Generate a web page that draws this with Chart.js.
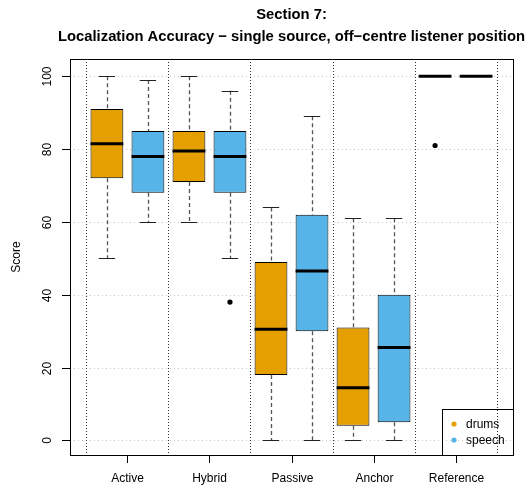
<!DOCTYPE html>
<html>
<head>
<meta charset="utf-8">
<script src="https://cdn.jsdelivr.net/npm/chart.js@4"></script>
<style>
  html, body { margin: 0; padding: 0; background: #ffffff; }
  #wrap { width: 529px; height: 488px; }
</style>
</head>
<body>
<div id="wrap"><canvas id="chart" width="529" height="488"></canvas></div>
<script>
// Listening-test scores, section 7: five-number summaries per condition and stimulus
const groups = ['Active', 'Hybrid', 'Passive', 'Anchor', 'Reference'];
const seriesNames = ['drums', 'speech'];
const seriesColors = ['#E69F00', '#56B4E9'];

const drumsLow  = [50, 60, 0, 0, 100];
const drumsQ1   = [72, 71, 18, 4, 100];
const drumsMed  = [81.5, 79.5, 30.5, 14.5, 100];
const drumsQ3   = [91, 85, 49, 31, 100];
const drumsHigh = [100, 100, 64, 61, 100];
const drumsOut  = [[], [], [], [], [81]];

const speechLow  = [60, 50, 0, 0, 100];
const speechQ1   = [68, 68, 30, 5, 100];
const speechMed  = [78, 78, 46.5, 25.5, 100];
const speechQ3   = [85, 85, 62, 40, 100];
const speechHigh = [99, 96, 89, 61, 100];
const speechOut  = [[], [38], [], [], []];

const yTicks = [0, 20, 40, 60, 80, 100];
const titleLines = ['Section 7:', 'Localization Accuracy \u2212 single source, off\u2212centre listener position'];
const yTitle = 'Score';

const FONT = '"Liberation Sans", Arial, Helvetica, sans-serif';

// box k of group i sits at x = 2*i + 1 + k
const series = [
  { low: drumsLow, q1: drumsQ1, med: drumsMed, q3: drumsQ3, high: drumsHigh, out: drumsOut },
  { low: speechLow, q1: speechQ1, med: speechMed, q3: speechQ3, high: speechHigh, out: speechOut }
];
const posOf = (i, k) => 2 * i + 1 + k;
const HALF_BOX = 0.4;
const HALF_CAP = 0.2;

const boxDatasets = series.map((s, k) => ({
  type: 'bar',
  label: seriesNames[k],
  data: groups.map((g, i) => ({ x: posOf(i, k), y: [s.q1[i], s.q3[i]] })),
  backgroundColor: seriesColors[k],
  borderColor: '#000000',
  borderWidth: 1,
  borderSkipped: false,
  grouped: false,
  barPercentage: 2 * HALF_BOX,
  categoryPercentage: 1,
  order: 2
}));

const outlierData = [];
series.forEach((s, k) => s.out.forEach((vals, i) => vals.forEach(v => outlierData.push({ x: posOf(i, k), y: v }))));

const boxplotDecor = {
  id: 'boxplotDecor',
  beforeDatasetsDraw(chart) {
    const { ctx, chartArea: a, scales: { x, y } } = chart;
    ctx.save();
    // horizontal reference lines
    ctx.strokeStyle = '#c8c8c8';
    ctx.lineWidth = 1;
    ctx.setLineDash([1, 3]);
    yTicks.forEach(t => {
      const py = Math.round(y.getPixelForValue(t)) + 0.5;
      ctx.beginPath(); ctx.moveTo(a.left, py); ctx.lineTo(a.right, py); ctx.stroke();
    });
    // group separators
    ctx.strokeStyle = '#333333';
    ctx.setLineDash([1, 2]);
    for (let i = 0; i <= groups.length; i++) {
      const px = Math.round(x.getPixelForValue(2 * i + 0.5)) + 0.5;
      ctx.beginPath(); ctx.moveTo(px, a.top); ctx.lineTo(px, a.bottom); ctx.stroke();
    }
    // whiskers and caps
    series.forEach((s, k) => groups.forEach((g, i) => {
      const p = posOf(i, k);
      const cx = Math.round(x.getPixelForValue(p)) + 0.5;
      ctx.strokeStyle = '#555555';
      ctx.lineWidth = 1.3;
      ctx.setLineDash([4, 3]);
      ctx.beginPath();
      ctx.moveTo(cx, y.getPixelForValue(s.high[i])); ctx.lineTo(cx, y.getPixelForValue(s.q3[i]));
      ctx.moveTo(cx, y.getPixelForValue(s.q1[i])); ctx.lineTo(cx, y.getPixelForValue(s.low[i]));
      ctx.stroke();
      ctx.setLineDash([]);
      ctx.strokeStyle = '#222222';
      ctx.lineWidth = 1;
      const cl = x.getPixelForValue(p - HALF_CAP), cr = x.getPixelForValue(p + HALF_CAP);
      [s.high[i], s.low[i]].forEach(v => {
        const py = Math.round(y.getPixelForValue(v)) + 0.5;
        ctx.beginPath(); ctx.moveTo(cl, py); ctx.lineTo(cr, py); ctx.stroke();
      });
    }));
    ctx.restore();
  },
  afterDatasetsDraw(chart) {
    const { ctx, chartArea: a, scales: { x, y } } = chart;
    ctx.save();
    // medians
    ctx.strokeStyle = '#000000';
    ctx.lineWidth = 3;
    ctx.setLineDash([]);
    series.forEach((s, k) => groups.forEach((g, i) => {
      const p = posOf(i, k);
      const py = y.getPixelForValue(s.med[i]);
      ctx.beginPath();
      ctx.moveTo(x.getPixelForValue(p - HALF_BOX), py);
      ctx.lineTo(x.getPixelForValue(p + HALF_BOX), py);
      ctx.stroke();
    }));
    // frame
    ctx.lineWidth = 1;
    ctx.strokeStyle = '#000000';
    ctx.strokeRect(Math.round(a.left) + 0.5, Math.round(a.top) + 0.5,
                   Math.round(a.right - a.left), Math.round(a.bottom - a.top));
    // y axis ticks and labels
    ctx.fillStyle = '#000000';
    ctx.font = '12px ' + FONT;
    yTicks.forEach(t => {
      const py = Math.round(y.getPixelForValue(t)) + 0.5;
      ctx.beginPath(); ctx.moveTo(a.left - 8, py); ctx.lineTo(a.left, py); ctx.stroke();
      ctx.save();
      ctx.translate(a.left - 22, py);
      ctx.rotate(-Math.PI / 2);
      ctx.textAlign = 'center';
      ctx.textBaseline = 'middle';
      ctx.fillText(String(t), 0, 0);
      ctx.restore();
    });
    // x axis ticks and labels
    groups.forEach((g, i) => {
      const px = Math.round(x.getPixelForValue(2 * i + 1.5)) + 0.5;
      ctx.beginPath(); ctx.moveTo(px, a.bottom); ctx.lineTo(px, a.bottom + 8); ctx.stroke();
      ctx.textAlign = 'center';
      ctx.textBaseline = 'middle';
      ctx.fillText(g, px, a.bottom + 24);
    });
    // axis title
    ctx.save();
    ctx.translate(17, (a.top + a.bottom) / 2);
    ctx.rotate(-Math.PI / 2);
    ctx.textAlign = 'center';
    ctx.textBaseline = 'middle';
    ctx.fillText(yTitle, 0, 0);
    ctx.restore();
    // title
    ctx.font = 'bold 14.8px ' + FONT;
    ctx.textAlign = 'center';
    ctx.textBaseline = 'middle';
    const cx = (a.left + a.right) / 2;
    ctx.fillText(titleLines[0], cx, 15);
    ctx.fillText(titleLines[1], cx, 37);
    // legend
    const lw = 71, lh = 46;
    const lx = Math.round(a.right) - lw, ly = Math.round(a.bottom) - lh;
    ctx.lineWidth = 1;
    ctx.strokeRect(lx + 0.5, ly + 0.5, lw, lh);
    ctx.font = '12px ' + FONT;
    ctx.textAlign = 'left';
    seriesNames.forEach((n, k) => {
      const ry = ly + 15 + k * 16;
      ctx.fillStyle = seriesColors[k];
      ctx.beginPath(); ctx.arc(lx + 12, ry, 2.6, 0, Math.PI * 2); ctx.fill();
      ctx.fillStyle = '#000000';
      ctx.fillText(n, lx + 24, ry + 1);
    });
    ctx.restore();
  }
};

new Chart(document.getElementById('chart'), {
  type: 'bar',
  data: {
    datasets: [
      ...boxDatasets,
      {
        type: 'scatter',
        label: 'outliers',
        data: outlierData,
        pointRadius: 2.6,
        pointHoverRadius: 2.6,
        pointBackgroundColor: '#000000',
        pointBorderColor: '#000000',
        pointBorderWidth: 0,
        order: 1
      }
    ]
  },
  options: {
    responsive: false,
    animation: false,
    layout: { padding: { left: 70, right: 16, top: 59, bottom: 33 } },
    plugins: {
      legend: { display: false },
      title: { display: false },
      tooltip: { enabled: false }
    },
    scales: {
      x: { type: 'linear', min: 0.1, max: 10.9, offset: false, display: false },
      y: { type: 'linear', min: -4, max: 104.75, display: false }
    }
  },
  plugins: [boxplotDecor]
});
</script>
</body>
</html>
